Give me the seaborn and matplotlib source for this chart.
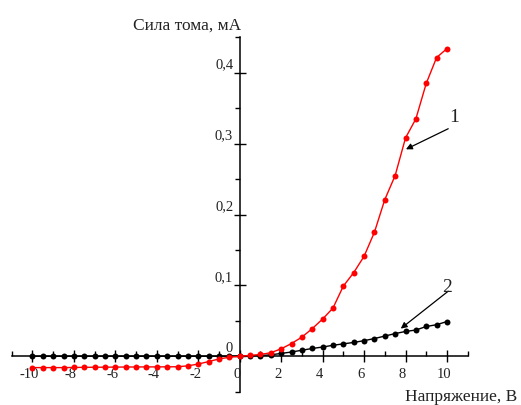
import matplotlib
matplotlib.use("Agg")
import matplotlib.pyplot as plt
import matplotlib.transforms as mtransforms
import seaborn as sns
import pandas as pd

# ---------------- data ----------------
voltage = [-10, -9.5, -9, -8.5, -8, -7.5, -7, -6.5, -6, -5.5, -5, -4.5, -4, -3.5,
           -3, -2.5, -2, -1.5, -1, -0.5, 0, 0.5, 1, 1.5, 2, 2.5, 3, 3.5, 4, 4.5,
           5, 5.5, 6, 6.5, 7, 7.5, 8, 8.5, 9, 9.5, 10]
current_1 = [-0.016, -0.016, -0.016, -0.016, -0.0158, -0.0156, -0.0155, -0.0154,
             -0.0153, -0.0152, -0.0151, -0.015, -0.015, -0.0149, -0.0148, -0.0135,
             -0.011, -0.0075, -0.0038, -0.0014, 0.0, 0.0012, 0.0025, 0.005, 0.0105,
             0.018, 0.027, 0.039, 0.0525, 0.068, 0.099, 0.118, 0.141, 0.175, 0.221,
             0.255, 0.308, 0.335, 0.385, 0.4215, 0.434]
current_2 = [0, 0, 0, 0, 0, 0, 0, 0, 0, 0, 0, 0, 0, 0, 0, 0, 0, 0, 0, 0,
             0.0, 0.0005, 0.001, 0.002, 0.004, 0.006, 0.0085, 0.011, 0.013, 0.0155,
             0.0175, 0.0195, 0.022, 0.025, 0.0285, 0.032, 0.035, 0.037, 0.042,
             0.0445, 0.049]

x_ticks = [-10, -8, -6, -4, -2, 0, 2, 4, 6, 8, 10]
x_tick_labels = ["-10", "-8", "-6", "-4", "-2", "0", "2", "4", "6", "8", "10"]
x_minor = [-11, -9, -7, -5, -3, -1, 1, 3, 5, 7, 9, 11]
y_ticks = [0, 0.1, 0.2, 0.3, 0.4]
y_tick_labels = ["0", "0,1", "0,2", "0,3", "0,4"]
y_minor = [-0.05, 0.05, 0.15, 0.25, 0.35, 0.45]

x_title = "Напряжение, В"
y_title = "Сила тома, мА"
curve_labels = ["1", "2"]

df = pd.DataFrame({"U": voltage, "I1": current_1, "I2": current_2})

# ---------------- figure ----------------
sns.set_style("white")
plt.rcParams["font.family"] = ["Liberation Serif", "DejaVu Serif"]

W, H = 521, 405
fig = plt.figure(figsize=(W / 100, H / 100), dpi=100)
ax = fig.add_axes([11.7 / W, 1 - 391.7 / H, 456 / W, 354.4 / H])
ax.set_xlim(-11, 11)
ax.set_ylim(-0.05, 0.45)

sns.lineplot(data=df, x="U", y="I2", ax=ax, color="black", linewidth=1.0,
             marker="o", markersize=4.3, markeredgewidth=0, zorder=3, sort=False)
sns.lineplot(data=df, x="U", y="I1", ax=ax, color="#ff0000", linewidth=1.0,
             marker="o", markersize=4.3, markeredgewidth=0, zorder=4, sort=False)

for s in ["top", "right"]:
    ax.spines[s].set_visible(False)
ax.spines["left"].set_position(("data", 0))
ax.spines["bottom"].set_position(("data", 0))
for s in ["left", "bottom"]:
    ax.spines[s].set_linewidth(1.1)
    ax.spines[s].set_color("black")
    ax.spines[s].set_zorder(2)

ax.set_xticks(x_ticks)
ax.set_xticks(x_minor, minor=True)
ax.set_yticks(y_ticks)
ax.set_yticks(y_minor, minor=True)
ax.set_xticklabels([])
ax.set_yticklabels([])
ax.tick_params(axis="x", which="both", bottom=True, top=False)
ax.tick_params(axis="y", which="both", left=True, right=False)
ax.tick_params(axis="both", which="major", direction="inout", length=9, width=1.0,
               color="black")
ax.tick_params(axis="x", which="minor", direction="in", length=3.5, width=1.0,
               color="black")
ax.tick_params(axis="y", which="minor", direction="out", length=3.5, width=1.0,
               color="black")
ax.set_xlabel("")
ax.set_ylabel("")
ax.grid(False)
ax.set_facecolor("white")

# tick labels as text with pixel offsets
def off(dx, dy):
    return ax.transData + mtransforms.ScaledTranslation(dx / 100, -dy / 100,
                                                        fig.dpi_scale_trans)

for v, lab in zip(x_ticks, x_tick_labels):
    ax.text(v, 0, lab, transform=off(-3, 18), ha="center", va="center",
            fontsize=10.5, color="#222222")
for v, lab in zip(y_ticks, y_tick_labels):
    ax.text(0, v, lab, transform=off(-6.5, -8), ha="right", va="center",
            fontsize=10.5, color="#222222")

# axis titles
fig.text(132.7 / W, 1 - 29.3 / H, y_title, ha="left", va="baseline",
         fontsize=12.5, color="#222222")
fig.text(517.7 / W, 1 - 401 / H, x_title, ha="right", va="baseline",
         fontsize=12.5, color="#222222")

# curve annotations
arrow = dict(arrowstyle="-|>", color="black", lw=0.9, mutation_scale=9,
             shrinkA=0, shrinkB=0)
ax.annotate("", xy=(8.02, 0.292), xytext=(10.06, 0.321), arrowprops=arrow)
ax.annotate("", xy=(7.77, 0.039), xytext=(10.06, 0.0918), arrowprops=arrow)
ax.text(10.34, 0.337, curve_labels[0], ha="center", va="center", fontsize=14,
        color="#222222")
ax.text(9.99, 0.0966, curve_labels[1], ha="center", va="center", fontsize=14,
        color="#222222")

fig.savefig("out.png", dpi=100, facecolor="white")
